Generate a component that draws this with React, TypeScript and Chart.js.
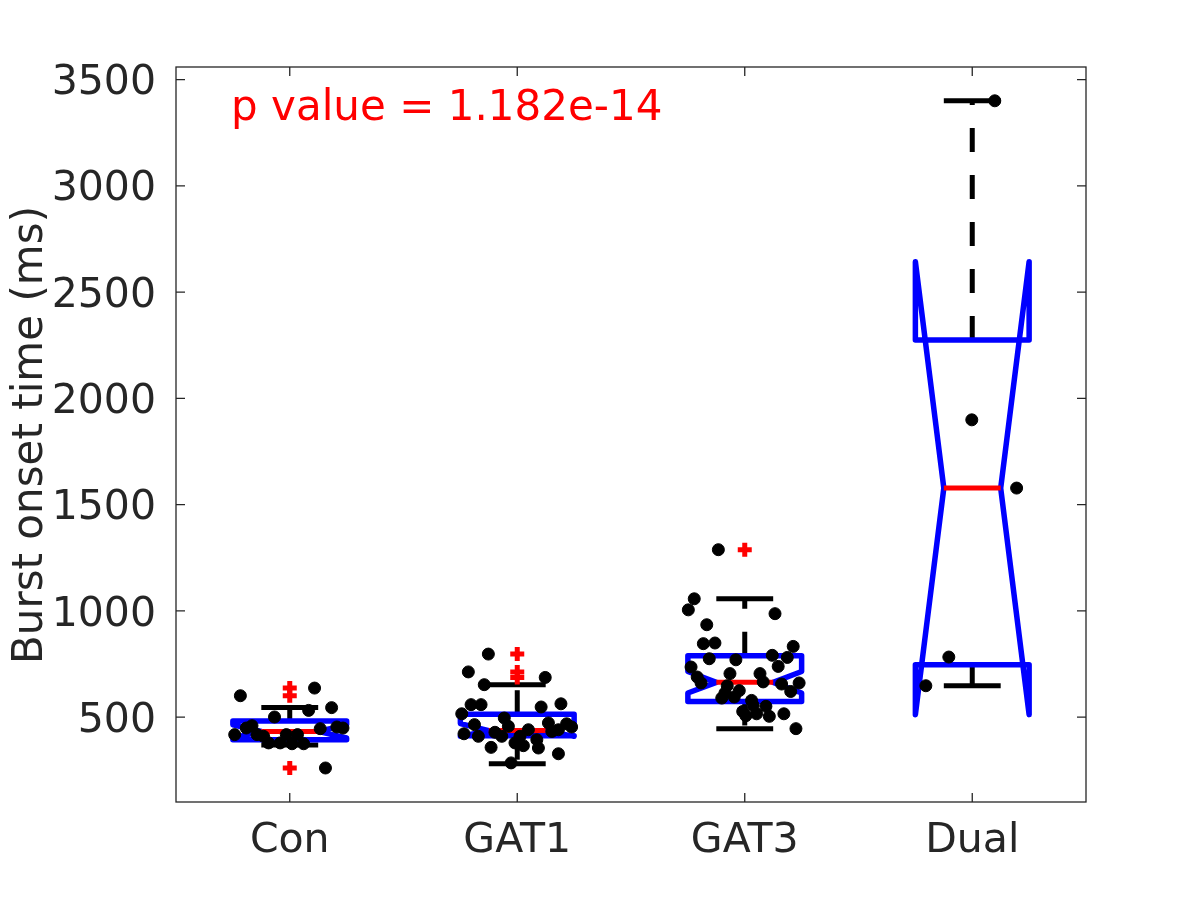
import React, { useEffect, useRef } from "react";
import { Chart, registerables } from "chart.js";

Chart.register(...registerables);

// ---------- data ----------
const categories = ["Con", "GAT1", "GAT3", "Dual"];
const yTicks = [500, 1000, 1500, 2000, 2500, 3000, 3500];
const yMin = 101;
const yMax = 3559;

const medians = [433, 437, 664, 1578];
const q1 = [394, 413, 574, 747];
const q3 = [482, 514, 789, 2275];
const notchLo = [402, 410, 614, 512];
const notchHi = [464, 470, 715, 2643];
const whiskerLo = [369, 281, 446, 648];
const whiskerHi = [546, 653, 1057, 3400];

const conOutliers = [637, 601, 261];
const gat1Outliers = [797, 713, 687];
const gat3Outliers = [1288];
const dualOutliers: number[] = [];

const conValues = [601, 637, 545, 532, 501, 446, 454, 449, 449, 460, 418, 418, 410, 379, 418, 418, 379, 375, 375, 261];
const conJitter = [-0.217, 0.109, 0.184, 0.083, -0.067, 0.134, 0.207, 0.234, -0.191, -0.166, -0.242, -0.144, -0.115, -0.093, -0.015, 0.034, -0.042, 0.01, 0.061, 0.157];

const gat1Values = [797, 713, 653, 687, 559, 559, 563, 548, 516, 496, 457, 465, 473, 469, 454, 422, 410, 429, 410, 441, 410, 433, 441, 379, 366, 394, 355, 358, 328, 285];
const gat1Jitter = [-0.127, -0.215, -0.145, 0.123, -0.203, -0.159, 0.192, 0.105, -0.244, -0.057, -0.039, -0.188, 0.137, 0.217, 0.239, -0.234, -0.171, -0.098, -0.068, 0.049, 0.012, 0.152, 0.181, -0.01, 0.027, 0.086, 0.093, -0.115, 0.181, -0.027];

const gat3Values = [1288, 1057, 1005, 987, 935, 846, 849, 833, 775, 770, 791, 781, 736, 739, 705, 705, 689, 661, 666, 656, 661, 621, 648, 625, 614, 595, 590, 579, 555, 551, 527, 516, 504, 516, 507, 446];
const gat3Jitter = [-0.116, -0.222, -0.248, 0.133, -0.167, -0.182, -0.131, 0.213, -0.156, -0.039, 0.121, 0.187, -0.236, 0.147, -0.065, 0.067, -0.209, -0.192, 0.081, 0.162, 0.239, 0.202, -0.077, -0.024, -0.087, -0.046, -0.101, 0.03, 0.037, 0.093, -0.009, 0.052, 0.108, 0.172, 0.005, 0.225];

const dualValues = [3400, 1899, 1578, 783, 648];
const dualJitter = [0.099, -0.002, 0.195, -0.103, -0.204];

const pValueText = "p value = 1.182e-14";
const pValueX = 0.742;
const pValueY = 3310;
const yTitle = "Burst onset time (ms)";

// ---------- derived ----------
const groupValues = [conValues, gat1Values, gat3Values, dualValues];
const groupJitter = [conJitter, gat1Jitter, gat3Jitter, dualJitter];
const groupOutliers = [conOutliers, gat1Outliers, gat3Outliers, dualOutliers];

const dotPoints = groupValues.flatMap((vals, g) =>
  vals.map((v, i) => ({ x: g + 1 + groupJitter[g][i], y: v }))
);
const outlierPoints = groupOutliers.flatMap((vals, g) => vals.map((v) => ({ x: g + 1, y: v })));

const FONT = "'DejaVu Sans', sans-serif";
const AXIS_COLOR = "#262626";

const boxPlugin = {
  id: "matlabBoxes",
  beforeDatasetsDraw(chart: any) {
    const { ctx, chartArea, scales } = chart;
    const xs = scales.x;
    const ys = scales.y;
    ctx.save();

    // frame + inward ticks
    ctx.strokeStyle = AXIS_COLOR;
    ctx.lineWidth = 1.3;
    ctx.strokeRect(chartArea.left, chartArea.top, chartArea.right - chartArea.left, chartArea.bottom - chartArea.top);
    const tl = 9;
    ctx.beginPath();
    yTicks.forEach((v) => {
      const py = ys.getPixelForValue(v);
      ctx.moveTo(chartArea.left, py);
      ctx.lineTo(chartArea.left + tl, py);
      ctx.moveTo(chartArea.right, py);
      ctx.lineTo(chartArea.right - tl, py);
    });
    categories.forEach((_, i) => {
      const px = xs.getPixelForValue(i + 1);
      ctx.moveTo(px, chartArea.bottom);
      ctx.lineTo(px, chartArea.bottom - tl);
      ctx.moveTo(px, chartArea.top);
      ctx.lineTo(px, chartArea.top + tl);
    });
    ctx.stroke();

    const hw = 0.25;
    const mw = 0.125;
    categories.forEach((_, i) => {
      const c = i + 1;
      const px = xs.getPixelForValue(c);
      const L = xs.getPixelForValue(c - hw);
      const R = xs.getPixelForValue(c + hw);
      const mL = xs.getPixelForValue(c - mw);
      const mR = xs.getPixelForValue(c + mw);
      const Y = (v: number) => ys.getPixelForValue(v);

      // whiskers (dashed)
      ctx.strokeStyle = "#000000";
      ctx.lineWidth = 5;
      ctx.lineCap = "butt";
      ctx.setLineDash([24, 23]);
      ctx.beginPath();
      ctx.moveTo(px, Y(q3[i]));
      ctx.lineTo(px, Y(whiskerHi[i]));
      ctx.stroke();
      ctx.beginPath();
      ctx.moveTo(px, Y(q1[i]));
      ctx.lineTo(px, Y(whiskerLo[i]));
      ctx.stroke();
      ctx.setLineDash([]);

      // caps
      ctx.beginPath();
      ctx.moveTo(mL, Y(whiskerHi[i]));
      ctx.lineTo(mR, Y(whiskerHi[i]));
      ctx.moveTo(mL, Y(whiskerLo[i]));
      ctx.lineTo(mR, Y(whiskerLo[i]));
      ctx.stroke();

      // notched box
      ctx.strokeStyle = "#0000FF";
      ctx.lineWidth = 5.5;
      ctx.lineJoin = "round";
      ctx.lineCap = "round";
      ctx.beginPath();
      ctx.moveTo(L, Y(q1[i]));
      ctx.lineTo(L, Y(notchLo[i]));
      ctx.lineTo(mL, Y(medians[i]));
      ctx.lineTo(L, Y(notchHi[i]));
      ctx.lineTo(L, Y(q3[i]));
      ctx.lineTo(R, Y(q3[i]));
      ctx.lineTo(R, Y(notchHi[i]));
      ctx.lineTo(mR, Y(medians[i]));
      ctx.lineTo(R, Y(notchLo[i]));
      ctx.lineTo(R, Y(q1[i]));
      ctx.closePath();
      ctx.stroke();

      // median
      ctx.strokeStyle = "#FF0000";
      ctx.lineWidth = 5;
      ctx.lineCap = "butt";
      ctx.beginPath();
      ctx.moveTo(mL, Y(medians[i]));
      ctx.lineTo(mR, Y(medians[i]));
      ctx.stroke();
    });
    ctx.restore();
  },
  afterDraw(chart: any) {
    const { ctx, scales } = chart;
    ctx.save();
    // p value text
    ctx.fillStyle = "#FF0000";
    ctx.font = `42px ${FONT}`;
    ctx.textAlign = "left";
    ctx.textBaseline = "alphabetic";
    ctx.fillText(pValueText, scales.x.getPixelForValue(pValueX), scales.y.getPixelForValue(pValueY));

    // y title
    ctx.fillStyle = AXIS_COLOR;
    ctx.translate(42, 435);
    ctx.rotate(-Math.PI / 2);
    ctx.textAlign = "center";
    ctx.fillText(yTitle, 0, 0);
    ctx.restore();
  },
};

export default function App() {
  const canvasRef = useRef<HTMLCanvasElement | null>(null);

  useEffect(() => {
    if (!canvasRef.current) return;
    const chart = new Chart(canvasRef.current, {
      type: "scatter",
      data: {
        datasets: [
          {
            label: "data",
            data: dotPoints,
            pointStyle: "circle",
            pointRadius: 6,
            pointBackgroundColor: "#000000",
            pointBorderColor: "#000000",
            pointBorderWidth: 1,
            showLine: false,
          },
          {
            label: "outliers",
            data: outlierPoints,
            pointStyle: "cross",
            pointRadius: 7,
            pointBorderColor: "#FF0000",
            pointBackgroundColor: "#FF0000",
            pointBorderWidth: 5,
            showLine: false,
          },
        ],
      },
      options: {
        animation: false,
        responsive: false,
        events: [],
        layout: { padding: { left: 0, top: 67, right: 114, bottom: 0 } },
        plugins: { legend: { display: false }, tooltip: { enabled: false }, title: { display: false } },
        scales: {
          x: {
            type: "linear",
            min: 0.5,
            max: 4.5,
            grid: { display: false },
            border: { display: false },
            afterBuildTicks: (scale: any) => {
              scale.ticks = categories.map((_, i) => ({ value: i + 1 }));
            },
            afterFit: (scale: any) => {
              scale.height = 98;
            },
            ticks: {
              autoSkip: false,
              maxRotation: 0,
              padding: 7,
              color: AXIS_COLOR,
              font: { family: FONT, size: 41 },
              callback: (v: any) => categories[Math.round(Number(v)) - 1] ?? "",
            },
          },
          y: {
            type: "linear",
            min: yMin,
            max: yMax,
            grid: { display: false },
            border: { display: false },
            afterBuildTicks: (scale: any) => {
              scale.ticks = yTicks.map((v) => ({ value: v }));
            },
            afterFit: (scale: any) => {
              scale.width = 176;
            },
            ticks: {
              padding: 12,
              labelOffset: 4,
              color: AXIS_COLOR,
              font: { family: FONT, size: 41 },
              callback: (v: any) => String(v),
            },
          },
        },
      },
      plugins: [boxPlugin],
    });
    return () => chart.destroy();
  }, []);

  return (
    <div style={{ position: "absolute", left: 0, top: 0, width: 1200, height: 900, background: "#ffffff" }}>
      <canvas ref={canvasRef} width={1200} height={900} />
    </div>
  );
}
